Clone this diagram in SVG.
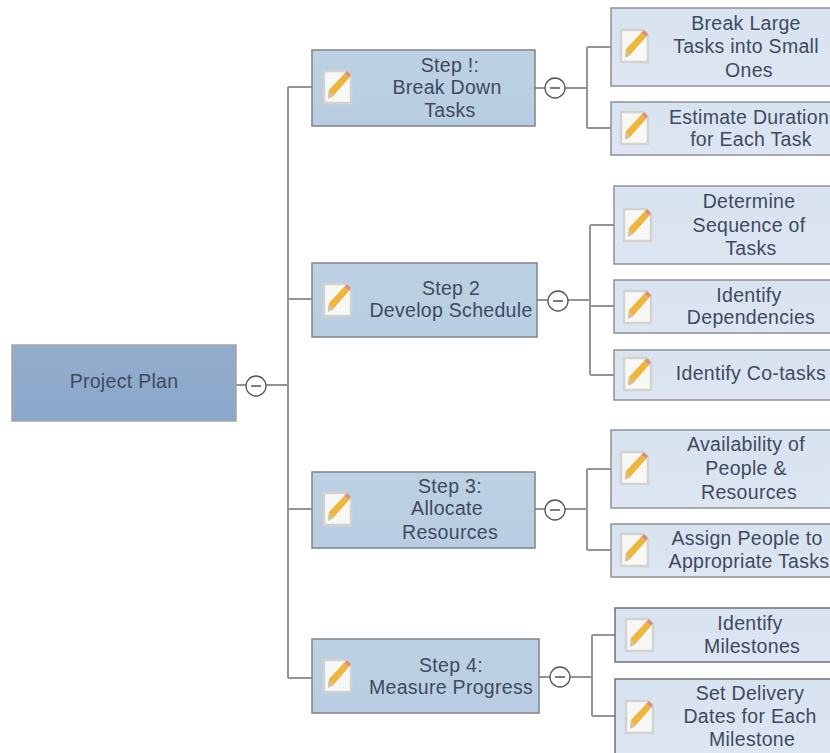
<svg xmlns="http://www.w3.org/2000/svg" width="830" height="753" viewBox="0 0 830 753">
<defs>
<linearGradient id="g0" x1="0" y1="0" x2="0" y2="1"><stop offset="0" stop-color="#93aecd"/><stop offset="1" stop-color="#8aa6ca"/></linearGradient>
<linearGradient id="g1" x1="0" y1="0" x2="0" y2="1"><stop offset="0" stop-color="#bdd1e4"/><stop offset="1" stop-color="#b9cde2"/></linearGradient>
<linearGradient id="g2" x1="0" y1="0" x2="0" y2="1"><stop offset="0" stop-color="#d8e3f0"/><stop offset="1" stop-color="#dde6f2"/></linearGradient>
<filter id="soft" x="-10%" y="-10%" width="120%" height="120%"><feGaussianBlur stdDeviation="0.6"/></filter>
<g id="note" filter="url(#soft)">
<path d="M1 1H23L28 6V33H1Z" fill="#f7f7f5" stroke="#d2d2ce" stroke-width="2.4"/>
<path d="M5 27 L6 20 L21 4 L26 8 L11 25 Z" fill="#efb63c"/>
<path d="M21 4 L24 1 L28 5 L26 8 Z" fill="#dc8f7c"/>
<path d="M5 29 L6 21 L11 26 Z" fill="#d4c49a"/>
</g>
</defs>
<style>
text{font-family:"Liberation Sans",Arial,sans-serif;font-size:19.5px;letter-spacing:.3px;fill:#3f4a60;text-anchor:middle}
.root{fill:url(#g0);stroke:#a5a5a5;stroke-width:1.5}
.mid{fill:url(#g1);stroke:#7f8388;stroke-width:1.5}
.leaf{fill:url(#g2);stroke:#8f9194;stroke-width:1.5}
.c{fill:none;stroke:#949494;stroke-width:2}
.t{fill:#fff;stroke:#555;stroke-width:1.3}
.m{stroke:#444;stroke-width:1.4;fill:none}
</style>
<g id="connectors">
<path class="c" d="M236 385H288M288 87V678M288 87H312M288 299H312M288 509H312M288 678H312"/>
<path class="c" d="M535 88H587M587 47V128M587 47H611M587 128H611"/>
<path class="c" d="M537 300H590M590 225V375M590 225H614M590 306H614M590 375H614"/>
<path class="c" d="M535 509H587M587 469V550M587 469H611M587 550H611"/>
<path class="c" d="M539 677H592M592 635V716M592 635H615M592 716H615"/>
<circle class="t" cx="256" cy="386" r="10"/><path class="m" d="M251 386H261"/>
<circle class="t" cx="555" cy="88" r="10"/><path class="m" d="M550 88H560"/>
<circle class="t" cx="558" cy="301" r="10"/><path class="m" d="M553 301H563"/>
<circle class="t" cx="555" cy="510" r="10"/><path class="m" d="M550 510H560"/>
<circle class="t" cx="560" cy="677" r="10"/><path class="m" d="M555 677H565"/>
</g>
<g id="root"><rect class="root" x="12" y="345" width="224" height="76"/><text x="124" y="388">Project Plan</text></g>
<g id="step1"><rect class="mid" x="312" y="50" width="223" height="76"/><use href="#note" x="323" y="70"/><text x="450" y="72">Step !:</text><text x="447" y="94">Break Down</text><text x="450" y="117">Tasks</text></g>
<g id="step2"><rect class="mid" x="312" y="263" width="225" height="74"/><use href="#note" x="323" y="283"/><text x="451" y="295">Step 2</text><text x="451" y="317">Develop Schedule</text></g>
<g id="step3"><rect class="mid" x="312" y="472" width="223" height="76"/><use href="#note" x="323" y="492"/><text x="450" y="493">Step 3:</text><text x="447" y="515">Allocate</text><text x="450" y="539">Resources</text></g>
<g id="step4"><rect class="mid" x="312" y="639" width="227" height="74"/><use href="#note" x="323" y="659"/><text x="451" y="672">Step 4:</text><text x="451" y="694">Measure Progress</text></g>
<g id="n11"><rect class="leaf" x="611" y="8" width="225" height="78"/><use href="#note" x="620" y="29"/><text x="746" y="30">Break Large</text><text x="746" y="53">Tasks into Small</text><text x="749" y="77">Ones</text></g>
<g id="n12"><rect class="leaf" x="611" y="102" width="225" height="53"/><use href="#note" x="620" y="111"/><text x="749" y="124">Estimate Duration</text><text x="751" y="146">for Each Task</text></g>
<g id="n21"><rect class="leaf" x="614" y="186" width="222" height="78"/><use href="#note" x="623" y="208"/><text x="749" y="208">Determine</text><text x="749" y="232">Sequence of</text><text x="751" y="255">Tasks</text></g>
<g id="n22"><rect class="leaf" x="614" y="280" width="222" height="53"/><use href="#note" x="623" y="290"/><text x="749" y="302">Identify</text><text x="751" y="324">Dependencies</text></g>
<g id="n23"><rect class="leaf" x="614" y="350" width="222" height="50"/><use href="#note" x="623" y="357"/><text x="751" y="380">Identify Co-tasks</text></g>
<g id="n31"><rect class="leaf" x="611" y="430" width="225" height="78"/><use href="#note" x="620" y="451"/><text x="746" y="451">Availability of</text><text x="746" y="475">People &amp;</text><text x="749" y="499">Resources</text></g>
<g id="n32"><rect class="leaf" x="611" y="524" width="225" height="53"/><use href="#note" x="620" y="533"/><text x="747" y="545">Assign People to</text><text x="749" y="568">Appropriate Tasks</text></g>
<g id="n41"><rect class="leaf" x="615" y="608" width="221" height="54" style="stroke:#6f7275"/><use href="#note" x="625" y="618"/><text x="750" y="630">Identify</text><text x="752" y="653">Milestones</text></g>
<g id="n42"><rect class="leaf" x="615" y="679" width="221" height="78" style="stroke:#6f7275"/><use href="#note" x="625" y="700"/><text x="750" y="700">Set Delivery</text><text x="750" y="723">Dates for Each</text><text x="752" y="746">Milestone</text></g>
</svg>
